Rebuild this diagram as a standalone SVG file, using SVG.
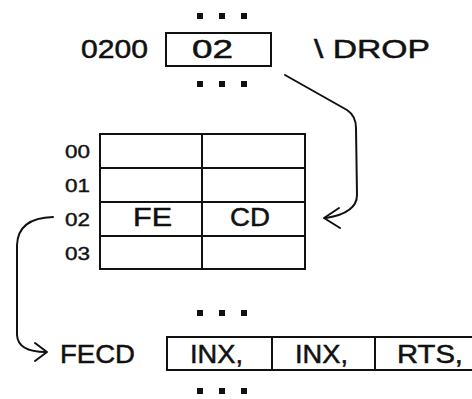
<svg xmlns="http://www.w3.org/2000/svg" width="472" height="399" viewBox="0 0 472 399">
<style>
  .t { font-family: "Liberation Sans", Arial, sans-serif; font-size: 26px; fill: #111; stroke: #111; stroke-width: 0.5; }
  .s { font-family: "Liberation Sans", Arial, sans-serif; font-size: 19px; fill: #111; stroke: #111; stroke-width: 0.4; }
  .box { fill: none; stroke: #111; stroke-width: 2; }
  .ln { fill: none; stroke: #111; stroke-width: 2; stroke-linecap: round; stroke-linejoin: round; }
  .dot { fill: #111; }
</style>
<rect width="472" height="399" fill="#fff"/>
<g id="top-cell">
  <g class="dot">
    <rect x="197" y="13" width="6" height="6"/><rect x="219" y="13" width="6" height="6"/><rect x="241" y="13" width="6" height="6"/>
    <rect x="197" y="81" width="6" height="6"/><rect x="219" y="81" width="6" height="6"/><rect x="241" y="81" width="6" height="6"/>
  </g>
  <text class="t" x="81" y="58" textLength="67" lengthAdjust="spacingAndGlyphs">0200</text>
  <rect class="box" x="166" y="33" width="105" height="33"/>
  <text class="t" x="192" y="58" textLength="41" lengthAdjust="spacingAndGlyphs">02</text>
  <text class="t" x="314" y="58" textLength="116" lengthAdjust="spacingAndGlyphs">\ DROP</text>
</g>
<g id="table">
  <rect class="box" x="100" y="134" width="205" height="135"/>
  <line class="box" x1="100" y1="168" x2="305" y2="168"/>
  <line class="box" x1="100" y1="202" x2="305" y2="202"/>
  <line class="box" x1="100" y1="236" x2="305" y2="236"/>
  <line class="box" x1="202" y1="134" x2="202" y2="269"/>
  <text class="s" x="65" y="158" textLength="25" lengthAdjust="spacingAndGlyphs">00</text>
  <text class="s" x="65" y="192" textLength="25" lengthAdjust="spacingAndGlyphs">01</text>
  <text class="s" x="65" y="226" textLength="25" lengthAdjust="spacingAndGlyphs">02</text>
  <text class="s" x="65" y="260" textLength="25" lengthAdjust="spacingAndGlyphs">03</text>
  <text class="t" x="133" y="226" textLength="39" lengthAdjust="spacingAndGlyphs">FE</text>
  <text class="t" x="230" y="226" textLength="40" lengthAdjust="spacingAndGlyphs">CD</text>
</g>
<g id="bottom-cells">
  <g class="dot">
    <rect x="197" y="310" width="6" height="6"/><rect x="219" y="310" width="6" height="6"/><rect x="241" y="310" width="6" height="6"/>
    <rect x="197" y="388" width="6" height="6"/><rect x="219" y="388" width="6" height="6"/><rect x="241" y="388" width="6" height="6"/>
  </g>
  <text class="t" x="60" y="363" textLength="75" lengthAdjust="spacingAndGlyphs">FECD</text>
  <path class="box" d="M480,337 H167 V370 H480"/>
  <line class="box" x1="272" y1="337" x2="272" y2="370"/>
  <line class="box" x1="375" y1="337" x2="375" y2="370"/>
  <text class="t" x="190" y="363" textLength="53" lengthAdjust="spacingAndGlyphs">INX,</text>
  <text class="t" x="295" y="363" textLength="53" lengthAdjust="spacingAndGlyphs">INX,</text>
  <text class="t" x="397" y="363" textLength="66" lengthAdjust="spacingAndGlyphs">RTS,</text>
</g>
<g id="connectors">
  <path class="ln" d="M285,75 L347,110 Q356,116 356,128 L357,195 Q357,213 326,218"/>
  <path class="ln" d="M339,208 L324,218 L340,228"/>
  <path class="ln" d="M53,217 Q18,218 17,245 L17,335 Q18,352 46,352"/>
  <path class="ln" d="M35,343 L47,352 L35,361"/>
</g>
</svg>
